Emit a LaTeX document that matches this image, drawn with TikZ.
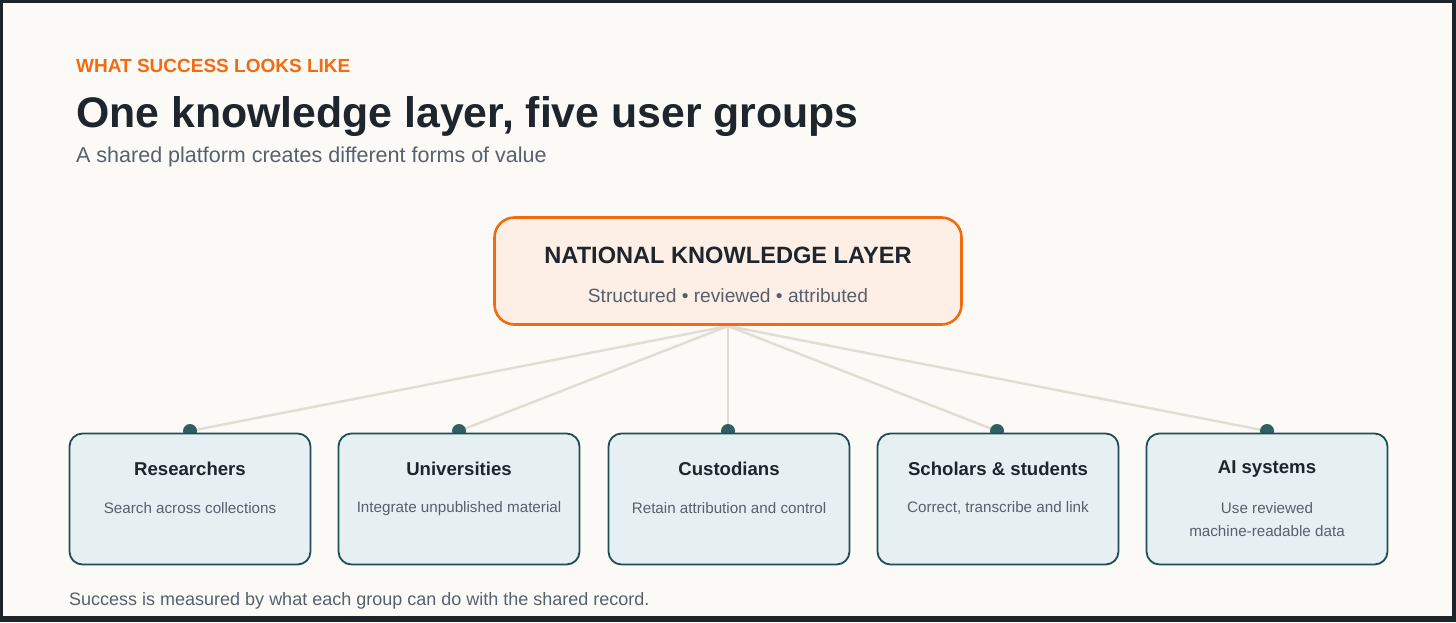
\documentclass[tikz,border=0pt]{standalone}
\usepackage{fontspec}
\setmainfont{Liberation Sans}
\definecolor{bg}{HTML}{FCFAF6}
\definecolor{frame}{HTML}{1E2328}
\definecolor{orange}{HTML}{F26B10}
\definecolor{ink}{HTML}{1E252D}
\definecolor{muted}{HTML}{56616D}
\definecolor{corefill}{HTML}{FDEFE5}
\definecolor{boxfill}{HTML}{E6EFF1}
\definecolor{boxline}{HTML}{1F4F55}
\definecolor{dotfill}{HTML}{2D5F63}
\definecolor{wire}{HTML}{E2DDD3}
\newcommand{\fs}[1]{\fontsize{#1}{#1}\selectfont}
\tikzset{
  x=1pt, y=-1pt,
  core/.style={draw=orange, line width=2.6pt, fill=corefill, rounded corners=20pt, minimum width=467pt, minimum height=107pt, inner sep=0pt},
  group/.style={draw=boxline, line width=1.8pt, fill=boxfill, rounded corners=13pt, minimum width=241pt, minimum height=131pt, inner sep=0pt},
  dot/.style={circle, fill=dotfill, minimum size=14pt, inner sep=0pt},
  wireline/.style={draw=wire, line width=2.4pt},
  gtitle/.style={font=\bfseries\fs{18.6}, text=ink, anchor=base},
  gdesc/.style={font=\fs{15.2}, text=muted, anchor=base, align=center},
}
\begin{document}
\begin{tikzpicture}
\useasboundingbox (0,0) rectangle (1456,622);
\fill[frame] (0,0) rectangle (1456,622);
\fill[bg] (3,3) rectangle (1452,616);
% header
\node[anchor=base west, inner sep=0pt, text=orange, font=\bfseries\fs{19}] (kicker) at (76,72) {WHAT SUCCESS LOOKS LIKE};
\node[anchor=base west, inner sep=0pt, text=ink, font=\bfseries\fs{42.8}] (title) at (76,127) {One knowledge layer, five user groups};
\node[anchor=base west, inner sep=0pt, text=muted, font=\fs{21.5}] (sub) at (76,162) {A shared platform creates different forms of value};
% connectors
\coordinate (hub) at (728,326);
\foreach \n/\x in {a/190,b/459,c/728,d/997,e/1267}{
  \coordinate (d\n) at (\x,431);
  \draw[wireline] (hub) -- (d\n);
}
\foreach \n in {a,b,c,d,e}{
  \node[dot] (dot\n) at (d\n) {};
}
% core
\node[core] (core) at (728,271) {};
\node[anchor=base, inner sep=0pt, text=ink, font=\bfseries\fs{23.6}] (coret) at (728,263) {NATIONAL KNOWLEDGE LAYER};
\node[anchor=base, inner sep=0pt, text=muted, font=\fs{19.2}] (cores) at (728,302) {Structured \textbullet{} reviewed \textbullet{} attributed};
% groups
\node[group] (ga) at (190,499) {};
\node[group] (gb) at (459,499) {};
\node[group] (gc) at (729,499) {};
\node[group] (gd) at (998,499) {};
\node[group] (ge) at (1267,499) {};
\node[gtitle] (ta) at (190,475) {Researchers};
\node[gdesc] (sa) at (190,513) {Search across collections};
\node[gtitle] (tb) at (459,475) {Universities};
\node[gdesc] (sb) at (459,512) {Integrate unpublished material};
\node[gtitle] (tc) at (729,475) {Custodians};
\node[gdesc] (sc) at (729,513) {Retain attribution and control};
\node[gtitle] (td) at (998,475) {Scholars \& students};
\node[gdesc] (sd) at (998,512) {Correct, transcribe and link};
\node[gtitle] (te) at (1267,473) {AI systems};
\node[gdesc] (se1) at (1267,513) {Use reviewed};
\node[gdesc] (se2) at (1267,536) {machine-readable data};
% footer
\node[anchor=base west, inner sep=0pt, text=muted, font=\fs{18}] (foot) at (69,605) {Success is measured by what each group can do with the shared record.};
\end{tikzpicture}
\end{document}
